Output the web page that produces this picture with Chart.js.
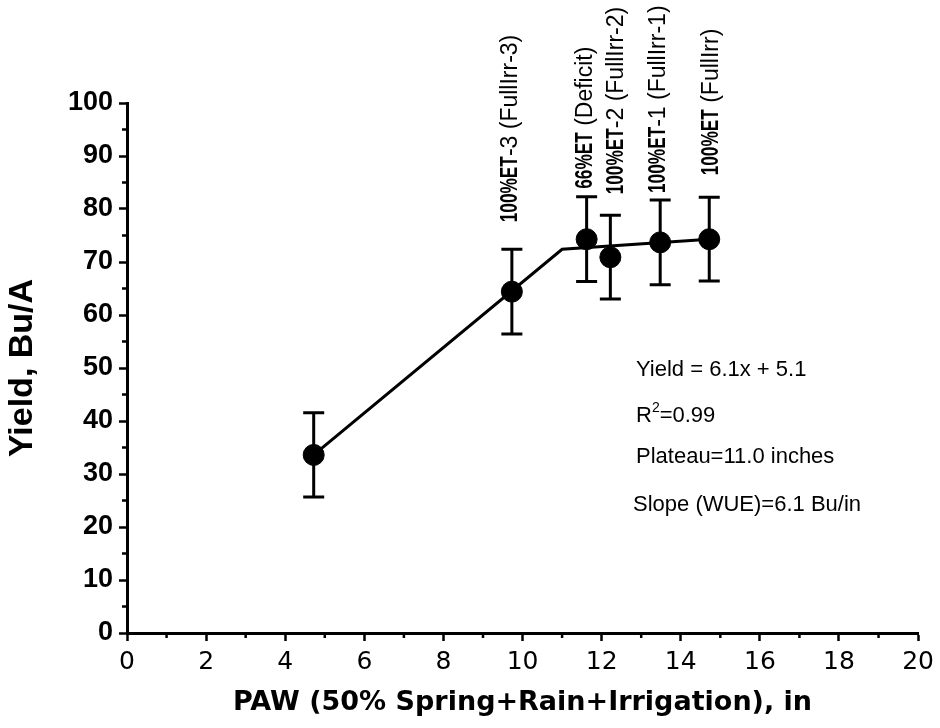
<!DOCTYPE html>
<html>
<head>
<meta charset="utf-8">
<script src="https://cdn.jsdelivr.net/npm/chart.js@4"></script>
<style>
  html, body { margin: 0; padding: 0; background: #fff; }
  #wrap { width: 940px; height: 728px; position: relative; }
</style>
</head>
<body>
<div id="wrap"><canvas id="chart"></canvas></div>
<script>
// measured points: PAW (in) and yield (Bu/A) with +/- error
const pawValues = [4.72, 9.73, 11.62, 12.22, 13.48, 14.72];
const yieldValues = [33.6, 64.4, 74.3, 70.9, 73.7, 74.3];
const yieldErr = [7.95, 8.0, 8.0, 7.9, 8.0, 7.9];

// linear-plateau fit line
const fitX = [4.72, 11.0, 14.72];
const fitY = [33.6, 72.4, 74.3];

// treatment labels (bold part + normal part)
const labelBold = ['', '100%ET', '66%ET', '100%ET', '100%ET', '100%ET'];
const labelRest = ['', '-3 (FullIrr-3)', ' (Deficit)', '-2 (FullIrr-2)', '-1 (FullIrr-1)', ' (FullIrr)'];

// regression notes
const notes = ['Yield = 6.1x + 5.1', 'R2=0.99', 'Plateau=11.0 inches', 'Slope (WUE)=6.1 Bu/in'];

// label layout (px)
const labelGap = [0, 27, 8, 21, 7, 22];
const labelShift = [0, -1, -1, 6, -2, 2];

const FONT = '"Liberation Sans", Arial, sans-serif';
const WIDE = '"DejaVu Sans", sans-serif';
Chart.defaults.font.family = FONT;
Chart.defaults.color = '#000';

// error bars
const errorBars = {
  id: 'errorBars',
  afterDatasetsDraw(chart) {
    const { ctx, scales: { x, y } } = chart;
    ctx.save();
    ctx.strokeStyle = '#000';
    ctx.lineWidth = 3;
    pawValues.forEach((v, i) => {
      const px = x.getPixelForValue(v);
      const top = y.getPixelForValue(yieldValues[i] + yieldErr[i]);
      const bot = y.getPixelForValue(yieldValues[i] - yieldErr[i]);
      ctx.beginPath();
      ctx.moveTo(px, top); ctx.lineTo(px, bot);
      ctx.moveTo(px - 10.5, top); ctx.lineTo(px + 10.5, top);
      ctx.moveTo(px - 10.5, bot); ctx.lineTo(px + 10.5, bot);
      ctx.stroke();
    });
    ctx.restore();
  }
};

// minor tick marks
const minorTicks = {
  id: 'minorTicks',
  afterDraw(chart) {
    const { ctx, scales: { x, y }, chartArea } = chart;
    ctx.save();
    ctx.strokeStyle = '#000';
    ctx.lineWidth = 2.5;
    ctx.beginPath();
    for (let v = 1; v < 20; v += 2) {
      const px = x.getPixelForValue(v);
      ctx.moveTo(px, chartArea.bottom); ctx.lineTo(px, chartArea.bottom + 5);
    }
    for (let v = 5; v < 100; v += 10) {
      const py = y.getPixelForValue(v);
      ctx.moveTo(chartArea.left, py); ctx.lineTo(chartArea.left - 5, py);
    }
    ctx.stroke();
    ctx.restore();
  }
};

// rotated treatment labels
const pointLabels = {
  id: 'pointLabels',
  afterDatasetsDraw(chart) {
    const { ctx, scales: { x, y } } = chart;
    ctx.save();
    ctx.fillStyle = '#000';
    ctx.textBaseline = 'middle';
    ctx.textAlign = 'left';
    pawValues.forEach((v, i) => {
      if (!labelBold[i]) return;
      const px = x.getPixelForValue(v) + labelShift[i];
      const py = y.getPixelForValue(yieldValues[i] + yieldErr[i]) - labelGap[i];
      ctx.save();
      ctx.translate(px, py);
      ctx.rotate(-Math.PI / 2);
      ctx.font = 'bold 23px ' + FONT;
      const bw = ctx.measureText(labelBold[i]).width * 0.75;
      ctx.save();
      ctx.scale(0.75, 1);
      ctx.fillText(labelBold[i], 0, 0);
      ctx.restore();
      ctx.font = '23px ' + FONT;
      ctx.fillText(labelRest[i], bw, 0);
      ctx.restore();
    });
    ctx.restore();
  }
};

// regression notes on the right
const notesPlugin = {
  id: 'notes',
  afterDraw(chart) {
    const { ctx, chartArea } = chart;
    const rows = [267, 313, 354, 402];
    ctx.save();
    ctx.fillStyle = '#000';
    ctx.textBaseline = 'middle';
    ctx.textAlign = 'left';
    ctx.font = '22px ' + FONT;
    notes.forEach((t, i) => {
      const lx = chartArea.left + (i === 3 ? 506 : 509);
      const ly = chartArea.top + rows[i];
      if (t.startsWith('R2')) {
        ctx.fillText('R', lx, ly);
        const rw = ctx.measureText('R').width;
        ctx.font = '14px ' + FONT;
        ctx.fillText('2', lx + rw, ly - 8);
        const sw = ctx.measureText('2').width;
        ctx.font = '22px ' + FONT;
        ctx.fillText(t.slice(2), lx + rw + sw, ly);
      } else {
        ctx.fillText(t, lx, ly);
      }
    });
    ctx.restore();
  }
};

new Chart(document.getElementById('chart'), {
  type: 'scatter',
  data: {
    datasets: [
      {
        type: 'line',
        data: fitX.map((v, i) => ({ x: v, y: fitY[i] })),
        borderColor: '#000',
        borderWidth: 3,
        pointRadius: 0,
        fill: false,
        tension: 0
      },
      {
        data: pawValues.map((v, i) => ({ x: v, y: yieldValues[i] })),
        backgroundColor: '#000',
        borderColor: '#000',
        pointRadius: 10.5,
        pointHoverRadius: 10.5
      }
    ]
  },
  options: {
    responsive: true,
    maintainAspectRatio: false,
    animation: false,
    layout: { padding: { top: 103, right: 20, bottom: 0, left: 0 } },
    plugins: {
      legend: { display: false },
      tooltip: { enabled: false }
    },
    scales: {
      x: {
        type: 'linear',
        min: 0,
        max: 20,
        border: { color: '#000', width: 3 },
        grid: { drawOnChartArea: false, drawTicks: true, tickLength: 8, tickColor: '#000', tickWidth: 2.5 },
        ticks: { stepSize: 2, padding: 6, color: '#000', font: { family: WIDE, size: 25 } },
        title: {
          display: true,
          text: 'PAW (50% Spring+Rain+Irrigation), in',
          color: '#000',
          font: { family: WIDE, size: 27, weight: 'bold' },
          padding: { top: 0, bottom: 9 }
        },
        afterFit(scale) { scale.height = 95; }
      },
      y: {
        min: 0,
        max: 100,
        border: { color: '#000', width: 3 },
        grid: { drawOnChartArea: false, drawTicks: true, tickLength: 8, tickColor: '#000', tickWidth: 2.5 },
        ticks: { stepSize: 10, padding: 6, color: '#000', font: { size: 27, weight: 'bold' } },
        title: {
          display: true,
          text: 'Yield, Bu/A',
          color: '#000',
          font: { size: 34, weight: 'bold' },
          padding: { top: 2, bottom: 0 }
        },
        afterFit(scale) { scale.width = 127; }
      }
    }
  },
  plugins: [errorBars, minorTicks, pointLabels, notesPlugin]
});
</script>
</body>
</html>
